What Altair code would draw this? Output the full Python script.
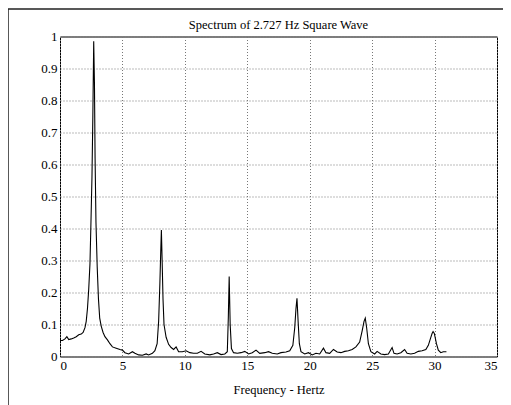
import altair as alt
import pandas as pd

freq = [0.0, 0.2, 0.4, 0.55, 0.7, 0.9, 1.1, 1.3, 1.5, 1.7, 1.85, 2.0, 2.1, 2.2, 2.3, 2.4, 2.48, 2.56, 2.63, 2.70,
        2.76, 2.81, 2.88, 2.98, 3.08, 3.18, 3.3, 3.45, 3.6, 3.8, 4.0, 4.2, 4.5, 4.8, 5.0, 5.2, 5.5, 5.8, 6.0, 6.3,
        6.6, 6.9, 7.1, 7.4, 7.6, 7.78, 7.9, 8.0, 8.07, 8.12, 8.18, 8.25, 8.33, 8.5, 8.7, 8.9, 9.1, 9.3, 9.5, 9.8,
        10.1, 10.4, 10.7, 11.0, 11.3, 11.6, 12.0, 12.3, 12.6, 12.9, 13.2, 13.4, 13.48, 13.55, 13.63, 13.73, 13.9, 14.2, 14.5, 14.8,
        15.1, 15.4, 15.7, 16.0, 16.4, 16.7, 17.0, 17.4, 17.7, 18.1, 18.4, 18.65, 18.8, 18.9, 18.98, 19.07, 19.17, 19.3, 19.6, 19.9,
        20.2, 20.5, 20.8, 21.1, 21.3, 21.6, 21.9, 22.2, 22.5, 22.8, 23.1, 23.4, 23.7, 24.0, 24.2, 24.35, 24.45, 24.56, 24.7, 24.9,
        25.2, 25.4, 25.7, 26.0, 26.3, 26.6, 26.75, 27.0, 27.3, 27.6, 27.8, 28.1, 28.4, 28.7, 29.0, 29.3, 29.5, 29.7, 29.8, 29.88,
        29.98, 30.15, 30.3, 30.5, 30.7, 30.95]
amp = [0.050, 0.050, 0.055, 0.062, 0.053, 0.055, 0.058, 0.062, 0.068, 0.070, 0.075, 0.090, 0.110, 0.150, 0.210, 0.290, 0.420, 0.560, 0.750, 0.985,
       0.850, 0.620, 0.420, 0.280, 0.180, 0.120, 0.095, 0.075, 0.062, 0.052, 0.040, 0.030, 0.026, 0.022, 0.020, 0.012, 0.008, 0.015, 0.010, 0.005,
       0.004, 0.008, 0.005, 0.010, 0.018, 0.040, 0.110, 0.230, 0.330, 0.395, 0.300, 0.180, 0.100, 0.060, 0.038, 0.028, 0.022, 0.030, 0.015, 0.015,
       0.018, 0.012, 0.010, 0.010, 0.016, 0.008, 0.005, 0.008, 0.012, 0.006, 0.008, 0.015, 0.120, 0.250, 0.100, 0.025, 0.012, 0.010, 0.012, 0.016,
       0.008, 0.012, 0.020, 0.010, 0.012, 0.015, 0.010, 0.008, 0.012, 0.014, 0.018, 0.035, 0.090, 0.150, 0.182, 0.110, 0.040, 0.015, 0.008, 0.012,
       0.005, 0.010, 0.008, 0.026, 0.012, 0.010, 0.022, 0.014, 0.012, 0.016, 0.018, 0.022, 0.030, 0.045, 0.080, 0.110, 0.120, 0.090, 0.040, 0.015,
       0.008, 0.016, 0.008, 0.006, 0.008, 0.028, 0.010, 0.008, 0.012, 0.022, 0.010, 0.008, 0.010, 0.016, 0.018, 0.022, 0.035, 0.060, 0.072, 0.078,
       0.072, 0.040, 0.020, 0.012, 0.015, 0.015]

x_ticks = [0, 5, 10, 15, 20, 25, 30, 35]
y_ticks = [0, 0.1, 0.2, 0.3, 0.4, 0.5, 0.6, 0.7, 0.8, 0.9, 1.0]
title_text = "Spectrum of 2.727 Hz Square Wave"
x_title = "Frequency - Hertz"

df = pd.DataFrame({"f": freq, "a": amp})
serif = "'Liberation Serif', 'Times New Roman', 'DejaVu Serif', serif"

line = alt.Chart(df).mark_line(color="black", strokeWidth=1.1, clip=True).encode(
    x=alt.X("f:Q", scale=alt.Scale(domain=[0, 35], nice=False),
            axis=alt.Axis(values=x_ticks, title=x_title, format="d", titleY=27, titleBaseline="top",
                          labelPadding=3)),
    y=alt.Y("a:Q", scale=alt.Scale(domain=[0, 1], nice=False),
            axis=alt.Axis(values=y_ticks, title=None, labelExpr="datum.value == 0 ? '0' : datum.value == 1 ? '1' : format(datum.value, '.1f')",
                          labelPadding=3)),
)

one = alt.Chart(pd.DataFrame({"t": [title_text]}))
frame = one.mark_rect(filled=False, stroke="#222", strokeWidth=1.5).encode(
    x=alt.value(-52), x2=alt.value(448), y=alt.value(-27.5), y2=alt.value(390)
)
title = one.mark_text(font=serif, fontSize=12.5, color="black", baseline="alphabetic", align="center").encode(
    x=alt.value(218.5), y=alt.value(-8), text="t:N"
)

chart = alt.layer(frame, line, title).properties(
    width=437, height=320,
    autosize=alt.AutoSizeParams(type="none"),
    padding={"left": 52, "top": 28.5, "right": 6, "bottom": 48},
    background="white",
).configure_view(stroke="black", strokeWidth=1).configure_axis(
    grid=True, gridColor="#777", gridDash=[1, 2], gridWidth=1, ticks=False, domain=False,
    labelFont=serif, labelFontSize=13, labelColor="black",
    titleFont=serif, titleFontSize=12.5, titleFontWeight="normal", titleColor="black",
)

chart.save("out.html", embed_options={"renderer": "svg", "actions": False})
